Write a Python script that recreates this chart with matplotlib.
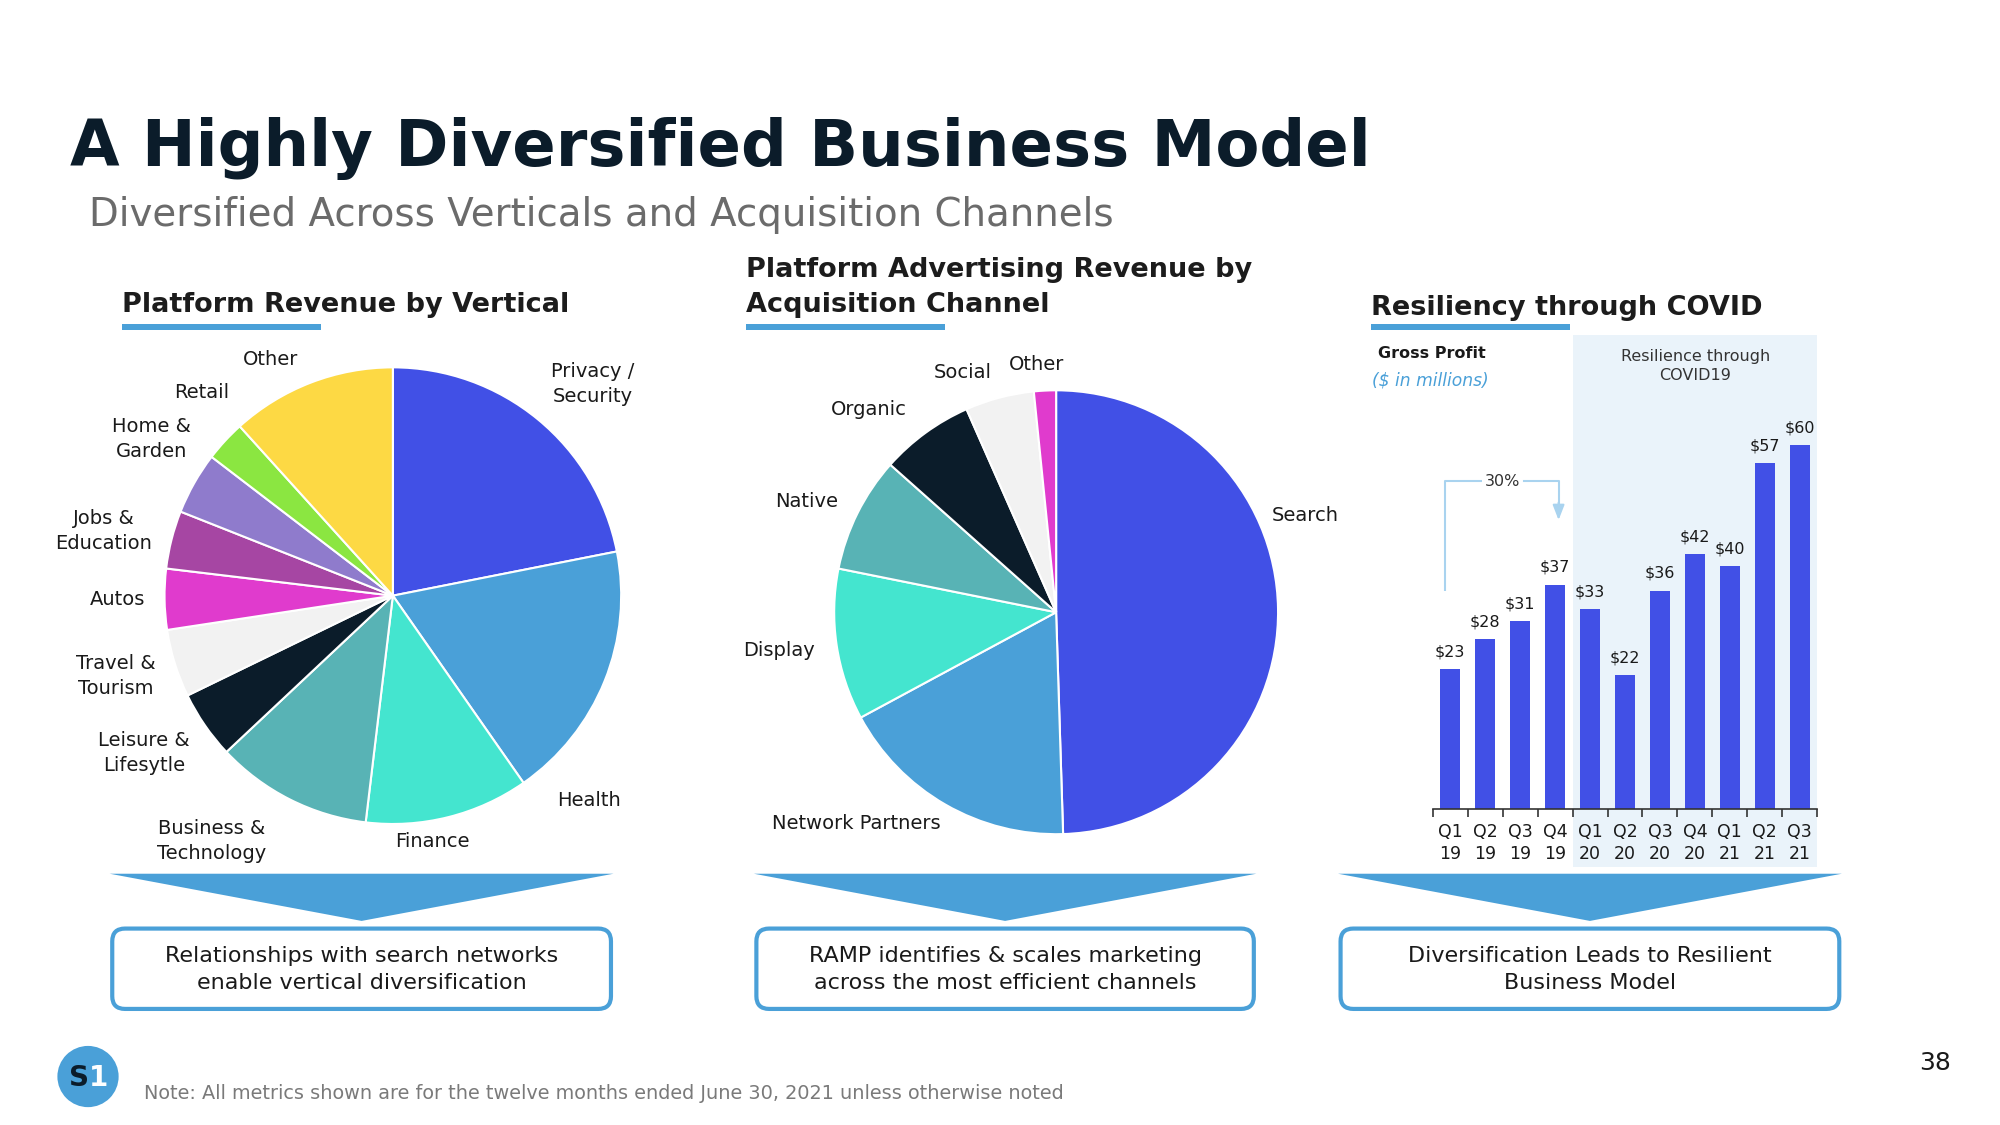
import matplotlib
matplotlib.use("Agg")
import numpy as np
import matplotlib.pyplot as plt
from matplotlib.patches import Rectangle, Polygon, FancyBboxPatch, Circle
from matplotlib.transforms import blended_transform_factory

plt.rcParams['font.family'] = ['DejaVu Sans']

# ---------------- data ----------------
vert_labels = ["Privacy /\nSecurity", "Health", "Finance", "Business &\nTechnology",
               "Leisure &\nLifesytle", "Travel &\nTourism", "Autos", "Jobs &\nEducation",
               "Home &\nGarden", "Retail", "Other"]
vert_values = [21.9, 18.4, 11.6, 11.1, 4.8, 4.8, 4.3, 4.1, 4.4, 2.9, 11.7]

chan_labels = ["Search", "Network Partners", "Display", "Native", "Organic", "Social", "Other"]
chan_values = [49.4, 17.6, 11.0, 8.4, 6.8, 5.0, 1.6]

quarters = ["Q1\n19", "Q2\n19", "Q3\n19", "Q4\n19", "Q1\n20", "Q2\n20",
            "Q3\n20", "Q4\n20", "Q1\n21", "Q2\n21", "Q3\n21"]
gross_profit = [23, 28, 31, 37, 33, 22, 36, 42, 40, 57, 60]

box_texts = ["Relationships with search networks\nenable vertical diversification",
             "RAMP identifies & scales marketing\nacross the most efficient channels",
             "Diversification Leads to Resilient\nBusiness Model"]

# ---------------- styles ----------------
NAVY = "#0b1c2a"
BLUE = "#4150e6"
LBLUE = "#4aa0d8"
vert_colors = [BLUE, LBLUE, "#44e5cf", "#58b3b5", NAVY, "#f2f2f2", "#e03bcd",
               "#a646a3", "#8f7bcc", "#8be641", "#fdd944"]
chan_colors = [BLUE, LBLUE, "#44e5cf", "#58b3b5", NAVY, "#f2f2f2", "#e03bcd"]

# label offsets (in pie-radius units)
vert_label_pos = [(0.877, 0.927), (0.860, -0.899), (0.173, -1.078), (-0.793, -1.073),
                  (-1.089, -0.687), (-1.212, -0.352), (-1.207, -0.017), (-1.268, 0.285),
                  (-1.056, 0.687), (-0.838, 0.888), (-0.536, 1.034)]
chan_label_pos = [(1.121, 0.437), (-0.902, -0.954), (-1.247, -0.172), (-1.126, 0.50),
                  (-0.845, 0.914), (-0.420, 1.080), (-0.086, 1.115)]

W, H = 1568, 882  # layout grid
FW = 2000

fig = plt.figure(figsize=(20, 11.25), dpi=100)
fig.patch.set_facecolor("white")
renderer = fig.canvas.get_renderer()

bg = fig.add_axes([0, 0, 1, 1], zorder=0)
bg.set_xlim(0, W)
bg.set_ylim(H, 0)
bg.axis("off")


def fit(t, target_w):
    bb = t.get_window_extent(renderer)
    t.set_fontsize(t.get_fontsize() * (target_w * FW / W) / bb.width)
    return t


def square_rect(cx, cy, half):
    return [(cx - half) / W, 1 - (cy + half) / H, 2 * half / W, 2 * half / H]


# ---------------- headings ----------------
t = bg.text(55, 130, "A Highly Diversified Business Model", fontsize=50, fontweight="bold",
            color=NAVY, ha="left", va="baseline")
fit(t, 1022)
t = bg.text(70, 177, "Diversified Across Verticals and Acquisition Channels", fontsize=24,
            color="#6b6b6b", ha="left", va="baseline")
fit(t, 805)

t1 = bg.text(96, 245, "Platform Revenue by Vertical", fontsize=20, fontweight="bold",
             color="#1c1c1c", ha="left", va="baseline")
fit(t1, 351)
fs = t1.get_fontsize()
bg.text(585, 217, "Platform Advertising Revenue by", fontsize=fs, fontweight="bold",
        color="#1c1c1c", ha="left", va="baseline")
bg.text(585, 245, "Acquisition Channel", fontsize=fs, fontweight="bold",
        color="#1c1c1c", ha="left", va="baseline")
bg.text(1075, 247, "Resiliency through COVID", fontsize=fs, fontweight="bold",
        color="#1c1c1c", ha="left", va="baseline")
for x0 in (96, 585, 1075):
    bg.add_patch(Rectangle((x0, 254), 156, 5, color=LBLUE, lw=0))

# ---------------- left pie ----------------
r1 = 179
ax1 = fig.add_axes(square_rect(308, 467, r1 * 1.5), zorder=2)
ax1.pie(vert_values, colors=vert_colors, startangle=90, counterclock=False, radius=1,
        wedgeprops=dict(edgecolor="white", linewidth=1.5))
for lab, (dx, dy) in zip(vert_labels, vert_label_pos):
    ax1.text(dx, dy, lab, ha="center", va="center", fontsize=14, color="#1a1a1a",
             linespacing=1.4)
ax1.set_xlim(-1.5, 1.5)
ax1.set_ylim(-1.5, 1.5)
ax1.axis("off")

# ---------------- middle pie ----------------
r2 = 174
ax2 = fig.add_axes(square_rect(828, 480, r2 * 1.5), zorder=2)
ax2.pie(chan_values, colors=chan_colors, startangle=90, counterclock=False, radius=1,
        wedgeprops=dict(edgecolor="white", linewidth=1.5))
for lab, (dx, dy) in zip(chan_labels, chan_label_pos):
    ax2.text(dx, dy, lab, ha="center", va="center", fontsize=14, color="#1a1a1a")
ax2.set_xlim(-1.5, 1.5)
ax2.set_ylim(-1.5, 1.5)
ax2.axis("off")

# ---------------- bar chart ----------------
ax_left, ax_right = 1123.3, 1424.7
base_y, top_y = 634, 325.4
ax3 = fig.add_axes([ax_left / W, 1 - base_y / H, (ax_right - ax_left) / W, (base_y - top_y) / H],
                   zorder=2)
ax3.patch.set_visible(False)
x = np.arange(len(gross_profit))
bars = ax3.bar(x, gross_profit, width=0.58, color=BLUE, zorder=2)
ax3.bar_label(bars, labels=[f"${v}" for v in gross_profit], padding=7, fontsize=11.5,
              color="#1a1a1a")
ax3.set_xlim(-0.5, len(gross_profit) - 0.5)
ax3.set_ylim(0, 65)
for s in ("top", "right", "left"):
    ax3.spines[s].set_visible(False)
ax3.spines["bottom"].set_color("#333333")
ax3.spines["bottom"].set_linewidth(1.2)
ax3.set_yticks([])
ax3.set_xticks(np.arange(-0.5, len(gross_profit), 1.0))
ax3.set_xticklabels([])
ax3.set_xticks(x, quarters, minor=True)
for lbl in ax3.get_xticklabels(minor=True):
    lbl.set_linespacing(1.35)
ax3.tick_params(axis="x", which="major", length=6, width=1.2, color="#333333", direction="out")
ax3.tick_params(axis="x", which="minor", length=0, pad=10, labelsize=12.5, labelcolor="#1a1a1a")

# shaded COVID region
trans = blended_transform_factory(ax3.transData, fig.transFigure)
ax3.add_patch(Rectangle((3.5, 1 - 680 / H), 7.0, (680 - 263) / H, transform=trans,
                        facecolor="#eaf3fa", edgecolor="none", zorder=0, clip_on=False))
ax3.text(1329 / W, 1 - 287 / H, "Resilience through\nCOVID19", transform=fig.transFigure,
         ha="center", va="center", fontsize=11.5, color="#333333", linespacing=1.3)
bg.text(1080, 277, "Gross Profit", fontsize=11.5, fontweight="bold", color="#1a1a1a",
        ha="left", va="center")
bg.text(1076, 298, "($ in millions)", fontsize=12.3, style="italic", color=LBLUE,
        ha="left", va="center")

# 30% bracket
BR = "#a9d3ef"
ax3.plot([-0.15, -0.15, 0.9], [36.0, 54.1, 54.1], color=BR, lw=1.5, clip_on=False,
         solid_capstyle="butt")
ax3.plot([2.1, 3.1, 3.1], [54.1, 54.1, 50.5], color=BR, lw=1.5, clip_on=False)
ax3.annotate("", xy=(3.1, 47.2), xytext=(3.1, 51.0),
             arrowprops=dict(arrowstyle="-|>,head_width=0.35,head_length=0.9",
                             color=BR, lw=1.5), annotation_clip=False)
ax3.text(1.5, 54.1, "30%", ha="center", va="center", fontsize=11.5, color="#333333")

# ---------------- chevrons and boxes ----------------
for (x0, x1), txt in zip([(86, 481), (591, 985), (1049, 1444)], box_texts):
    xm = (x0 + x1) / 2
    bg.add_patch(Polygon([(x0, 685), (x1, 685), (xm, 722)], closed=True,
                         facecolor=LBLUE, edgecolor="none"))
    bx0, bx1 = x0 + 2, x1 - 2
    bg.add_patch(FancyBboxPatch((bx0, 728), bx1 - bx0, 63,
                                boxstyle="round,pad=0,rounding_size=10",
                                facecolor="white", edgecolor=LBLUE, lw=3))
    bg.text(xm, 760, txt, ha="center", va="center", fontsize=16, color="#1a1a1a",
            linespacing=1.4)

# ---------------- footer ----------------
bg.add_patch(Circle((69, 844), 24, facecolor=LBLUE, edgecolor="none"))
bg.text(62, 845, "S", fontsize=20, fontweight="bold", color=NAVY, ha="center", va="center")
bg.text(77, 845, "1", fontsize=20, fontweight="bold", color="white", ha="center", va="center")
t = bg.text(113, 862, "Note: All metrics shown are for the twelve months ended June 30, 2021 unless otherwise noted",
            fontsize=12, color="#7a7a7a", ha="left", va="baseline")
fit(t, 722)
bg.text(1517, 833, "38", fontsize=18, color="#1a1a1a", ha="center", va="center")

fig.savefig("out.png", dpi=100, facecolor="white")
